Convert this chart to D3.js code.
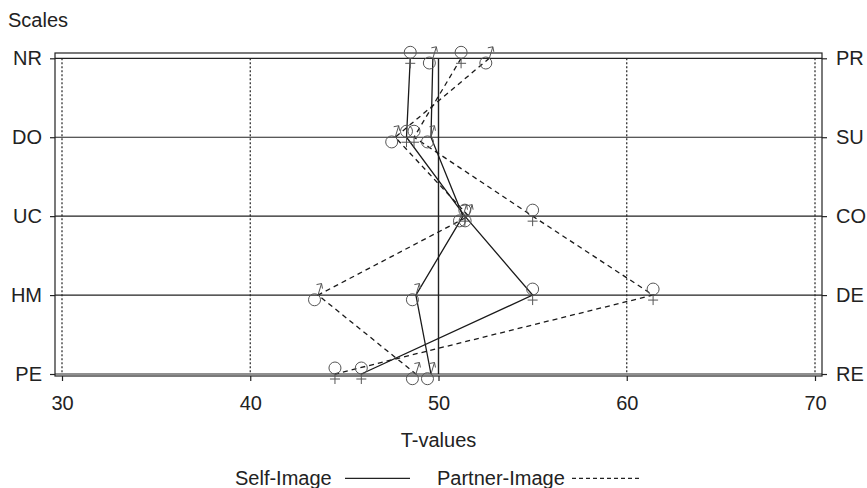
<!DOCTYPE html>
<html><head><meta charset="utf-8">
<script src="https://cdn.jsdelivr.net/npm/d3@7"></script>
<style>body{margin:0;background:#fff}svg{display:block}text{font-family:"Liberation Sans",Arial,sans-serif;fill:#222}</style>
</head><body><svg id="c" width="867" height="488"></svg>
<script>
const scalesLeft = ["NR","DO","UC","HM","PE"];
const scalesRight = ["PR","SU","CO","DE","RE"];
const xTicks = [30,40,50,60,70];
const selfFemale = [48.5,48.3,51.4,55.0,45.9];
const selfMale = [49.7,49.6,51.3,48.8,49.6];
const partnerFemale = [51.2,48.7,55.0,61.4,44.5];
const partnerMale = [52.7,47.7,51.6,43.6,48.8];

const svg = d3.select("#c");
const box = {l:55, r:822, t:53, b:376};
const x = d3.scaleLinear().domain([30,70]).range([62,815]);
const y = d3.scalePoint().domain(scalesLeft).range([58.3,374]);
const yR = d3.scalePoint().domain(scalesRight).range([58.3,374]);
const FS = 20;

// box
svg.append("rect").attr("x",box.l).attr("y",box.t).attr("width",box.r-box.l).attr("height",box.b-box.t)
  .attr("fill","none").attr("stroke","#222").attr("stroke-width",1.2);
// horizontal grid
svg.append("g").selectAll("line").data(scalesLeft).join("line")
  .attr("x1",box.l).attr("x2",box.r).attr("y1",d=>y(d)).attr("y2",d=>y(d))
  .attr("stroke","#222").attr("stroke-width",1.2);
// vertical grid
svg.append("g").selectAll("line").data(xTicks).join("line")
  .attr("x1",d=>x(d)).attr("x2",d=>x(d)).attr("y1",y("NR")).attr("y2",y("PE"))
  .attr("stroke","#222").attr("stroke-width",d=>d===50?1.4:1.2)
  .attr("stroke-dasharray",d=>d===50?null:"2,2");

// axes
const ax = (g)=>{g.select(".domain").remove(); g.selectAll("line").attr("stroke","#222").attr("stroke-width",1.2);
  g.selectAll("text").style("font-size",FS+"px").attr("fill","#222").style("font-family",'"Liberation Sans",Arial,sans-serif');};
svg.append("g").attr("transform",`translate(${box.l},0)`).call(d3.axisLeft(y).tickSize(5).tickPadding(8)).call(ax);
svg.append("g").attr("transform",`translate(${box.r},0)`).call(d3.axisRight(yR).tickSize(5).tickPadding(9)).call(ax);
svg.append("g").attr("transform",`translate(0,${box.b})`).call(d3.axisBottom(x).tickValues(xTicks).tickSize(5).tickPadding(15)).call(ax);

svg.append("text").attr("x",8).attr("y",27).style("font-size",FS+"px").text("Scales");
svg.append("text").attr("x",x(50)).attr("y",446.5).attr("text-anchor","middle").style("font-size",FS+"px").text("T-values");

// series
const series = [
  {v:selfFemale, sex:"f", dash:null},
  {v:selfMale, sex:"m", dash:null},
  {v:partnerFemale, sex:"f", dash:"5,4"},
  {v:partnerMale, sex:"m", dash:"5,4"}
];
const line = d3.line().x(d=>x(d.v)).y(d=>y(d.s));
series.forEach(s=>{
  const pts = s.v.map((v,i)=>({v, s:scalesLeft[i]}));
  svg.append("path").attr("d",line(pts)).attr("fill","none").attr("stroke","#1a1a1a")
    .attr("stroke-width",1.3).attr("stroke-dasharray",s.dash);
});
series.forEach(s=>{
  const pts = s.v.map((v,i)=>({v, s:scalesLeft[i]}));
  const g = svg.append("g").attr("fill","none").attr("stroke","#555").attr("stroke-width",1);
  pts.forEach(p=>{
    const px = x(p.v), py = y(p.s);
    if(s.sex==="f"){
      g.append("circle").attr("cx",px).attr("cy",py-6).attr("r",6);
      g.append("line").attr("x1",px).attr("x2",px).attr("y1",py).attr("y2",py+10);
      g.append("line").attr("x1",px-5).attr("x2",px+5).attr("y1",py+5).attr("y2",py+5);
    } else {
      g.append("circle").attr("cx",px-3.5).attr("cy",py+4.7).attr("r",6);
      const tx = px+3.5, ty = py-11.5;
      g.append("line").attr("x1",px).attr("y1",py).attr("x2",tx).attr("y2",ty);
      g.append("line").attr("x1",tx).attr("y1",ty).attr("x2",tx-5).attr("y2",ty+1);
      g.append("line").attr("x1",tx).attr("y1",ty).attr("x2",tx+1).attr("y2",ty+5);
    }
  });
});

// legend
const ly = 478.3;
svg.append("text").attr("x",235).attr("y",485).style("font-size",FS+"px").text("Self-Image");
svg.append("line").attr("x1",345).attr("x2",410).attr("y1",ly).attr("y2",ly).attr("stroke","#222").attr("stroke-width",1.2);
svg.append("text").attr("x",437).attr("y",485).style("font-size",FS+"px").text("Partner-Image");
svg.append("line").attr("x1",572).attr("x2",640).attr("y1",ly).attr("y2",ly).attr("stroke","#222").attr("stroke-width",1.2).attr("stroke-dasharray","4,3");
</script></body></html>
